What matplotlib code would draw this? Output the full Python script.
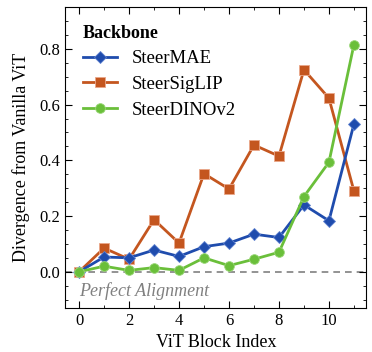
import matplotlib
matplotlib.use("Agg")
import matplotlib.pyplot as plt

plt.rcParams['font.family'] = ['Liberation Serif', 'DejaVu Serif']
plt.rcParams['mathtext.fontset'] = 'stix'

blocks = list(range(12))
steer_mae = [0.0, 0.053, 0.050, 0.078, 0.055, 0.090, 0.103, 0.135, 0.123, 0.240, 0.183, 0.530]
steer_siglip = [0.0, 0.085, 0.045, 0.187, 0.103, 0.352, 0.297, 0.455, 0.415, 0.725, 0.623, 0.290]
steer_dino = [0.0, 0.020, 0.005, 0.015, 0.005, 0.050, 0.022, 0.045, 0.070, 0.270, 0.393, 0.815]

fig, ax = plt.subplots(figsize=(3.72, 3.52), dpi=100)

ax.axhline(0, color='#808080', ls='--', lw=1.2, dashes=(4, 3), zorder=1)
ax.plot(blocks, steer_mae, color='#1f4cad', marker='D', ms=6.5, lw=2,
        markeredgecolor='#5f82d0', markeredgewidth=0.6, label='SteerMAE', zorder=3)
ax.plot(blocks, steer_siglip, color='#c4561f', marker='s', ms=7, lw=2,
        markeredgecolor='#eaa78a', markeredgewidth=0.6, label='SteerSigLIP', zorder=2)
ax.plot(blocks, steer_dino, color='#6abf3a', marker='o', ms=7, lw=2,
        markeredgecolor='#9cd87a', markeredgewidth=0.6, label='SteerDINOv2', zorder=4)

ax.text(0.0, -0.068, 'Perfect Alignment', style='italic', color='#808080',
        fontsize=13, va='center', ha='left')

ax.set_xlim(-0.56, 11.5)
ax.set_ylim(-0.13, 0.95)
ax.set_xticks([0, 2, 4, 6, 8, 10])
ax.set_yticks([0.0, 0.2, 0.4, 0.6, 0.8])
ax.set_xticks(range(0, 12), minor=True)
ax.set_yticks([i * 0.05 for i in range(-2, 19)], minor=True)
ax.tick_params(which='both', direction='in', top=True, right=True, labelsize=12)
ax.tick_params(which='major', length=5, width=0.8)
ax.tick_params(which='minor', length=2.5, width=0.6)

ax.set_xlabel('ViT Block Index', fontsize=13)
ax.set_ylabel('Divergence from Vanilla ViT', fontsize=13, labelpad=7)

leg = ax.legend(title='Backbone', loc='upper left', frameon=False, fontsize=13.5,
                title_fontproperties={'weight': 'bold', 'size': 13},
                handlelength=1.8, labelspacing=0.45, borderaxespad=0.55)
leg._legend_box.align = 'left'

fig.subplots_adjust(left=0.175, right=0.985, top=0.98, bottom=0.125)
fig.savefig('out.png', dpi=100)
